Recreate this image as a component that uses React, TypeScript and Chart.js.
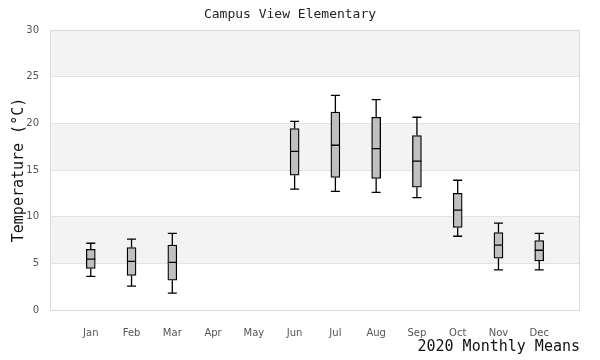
import React, { useEffect, useRef } from 'react';
import { Chart, registerables } from 'chart.js';

Chart.register(...registerables);

const months = ['Jan', 'Feb', 'Mar', 'Apr', 'May', 'Jun', 'Jul', 'Aug', 'Sep', 'Oct', 'Nov', 'Dec'];
const whiskerLow = [3.6, 2.55, 1.8, null, null, 12.95, 12.7, 12.6, 12.05, 7.9, 4.3, 4.3];
const q1 = [4.45, 3.7, 3.2, null, null, 14.45, 14.2, 14.1, 13.15, 8.85, 5.55, 5.25];
const median = [5.45, 5.2, 5.1, null, null, 17.0, 17.65, 17.3, 15.95, 10.7, 6.95, 6.4];
const q3 = [6.5, 6.7, 6.95, null, null, 19.45, 21.2, 20.65, 18.7, 12.5, 8.3, 7.45];
const whiskerHigh = [7.15, 7.6, 8.2, null, null, 20.2, 23.0, 22.55, 20.65, 13.9, 9.3, 8.2];
const yMin = 0;
const yMax = 30;
const yStep = 5;

const chartTitle = 'Campus View Elementary';
const xTitle = '2020 Monthly Means';
const yTitle = 'Temperature (°C)';

const labels = ['', ...months, ''];
const boxData = [null, ...months.map((_, i) => (q1[i] == null || q3[i] == null ? null : [q1[i], q3[i]])), null];

const boxPlugin = {
  id: 'boxPlugin',
  beforeDraw(chart: any) {
    const { ctx, chartArea, scales } = chart;
    const y = scales.y;
    ctx.save();
    ctx.fillStyle = '#ffffff';
    ctx.fillRect(0, 0, chart.width, chart.height);
    let band = 0;
    for (let v = yMin; v < yMax; v += yStep) {
      if (band % 2 === 1) {
        const top = y.getPixelForValue(v + yStep);
        const bot = y.getPixelForValue(v);
        ctx.fillStyle = '#f3f3f3';
        ctx.fillRect(chartArea.left, top, chartArea.right - chartArea.left, bot - top);
      }
      band++;
    }
    ctx.restore();
  },
  beforeDatasetsDraw(chart: any) {
    const { ctx, chartArea } = chart;
    ctx.save();
    ctx.strokeStyle = '#dadada';
    ctx.lineWidth = 1;
    ctx.strokeRect(chartArea.left + 0.5, chartArea.top + 0.5, chartArea.right - chartArea.left - 1, chartArea.bottom - chartArea.top);
    ctx.restore();
  },
  afterDatasetsDraw(chart: any) {
    const { ctx, scales } = chart;
    const x = scales.x;
    const y = scales.y;
    const half = 4.5;
    ctx.save();
    ctx.strokeStyle = '#000000';
    ctx.lineWidth = 1.3;
    months.forEach((_, i) => {
      if (median[i] == null) return;
      const px = x.getPixelForValue(i + 1);
      const yl = y.getPixelForValue(whiskerLow[i] as number);
      const y1 = y.getPixelForValue(q1[i] as number);
      const ym = y.getPixelForValue(median[i] as number);
      const y3 = y.getPixelForValue(q3[i] as number);
      const yh = y.getPixelForValue(whiskerHigh[i] as number);
      ctx.beginPath();
      ctx.moveTo(px, yh);
      ctx.lineTo(px, y3);
      ctx.moveTo(px, y1);
      ctx.lineTo(px, yl);
      ctx.moveTo(px - half, yh);
      ctx.lineTo(px + half, yh);
      ctx.moveTo(px - half, yl);
      ctx.lineTo(px + half, yl);
      ctx.moveTo(px - half, ym);
      ctx.lineTo(px + half, ym);
      ctx.stroke();
    });
    ctx.restore();
  },
};

export default function App() {
  const ref = useRef<HTMLCanvasElement | null>(null);
  useEffect(() => {
    if (!ref.current) return;
    const chart = new Chart(ref.current, {
      type: 'bar',
      data: {
        labels,
        datasets: [
          {
            data: boxData as any,
            backgroundColor: '#c0c0c0',
            borderColor: '#000000',
            borderWidth: 1.3,
            borderSkipped: false,
            barThickness: 9,
          },
        ],
      },
      options: {
        responsive: false,
        animation: false,
        devicePixelRatio: 1,
        layout: { padding: { left: 0, right: 20, top: 0, bottom: 0 } },
        plugins: {
          legend: { display: false },
          tooltip: { enabled: false },
          title: {
            display: true,
            text: chartTitle,
            color: '#222222',
            font: { family: 'DejaVu Sans Mono', size: 13, weight: 'normal' },
            padding: { top: 7, bottom: 7.4 },
          },
        },
        scales: {
          x: {
            type: 'category',
            offset: false,
            grid: { display: false },
            border: { display: false },
            ticks: {
              color: '#555555',
              font: { family: 'DejaVu Sans', size: 10 },
              padding: 9,
              autoSkip: false,
              maxRotation: 0,
            },
            title: {
              display: true,
              text: xTitle,
              align: 'end',
              color: '#111111',
              font: { family: 'DejaVu Sans Mono', size: 15, weight: 'normal' },
              padding: { top: 0, bottom: 4 },
            },
            afterFit(scale: any) {
              scale.height = 50;
            },
          },
          y: {
            min: yMin,
            max: yMax,
            grid: { color: '#e3e3e3', drawTicks: false },
            border: { display: false },
            ticks: {
              stepSize: yStep,
              color: '#555555',
              font: { family: 'DejaVu Sans', size: 10 },
              padding: 11,
            },
            title: {
              display: true,
              text: yTitle,
              color: '#111111',
              font: { family: 'DejaVu Sans Mono', size: 15, weight: 'normal' },
              padding: { top: 10, bottom: 0 },
            },
            afterFit(scale: any) {
              scale.width = 50;
            },
          },
        },
      },
      plugins: [boxPlugin],
    });
    return () => chart.destroy();
  }, []);
  return (
    <div style={{ position: 'fixed', left: 0, top: 0, width: 600, height: 360, background: '#fff' }}>
      <canvas ref={ref} width={600} height={360} style={{ width: 600, height: 360, display: 'block' }} />
    </div>
  );
}
